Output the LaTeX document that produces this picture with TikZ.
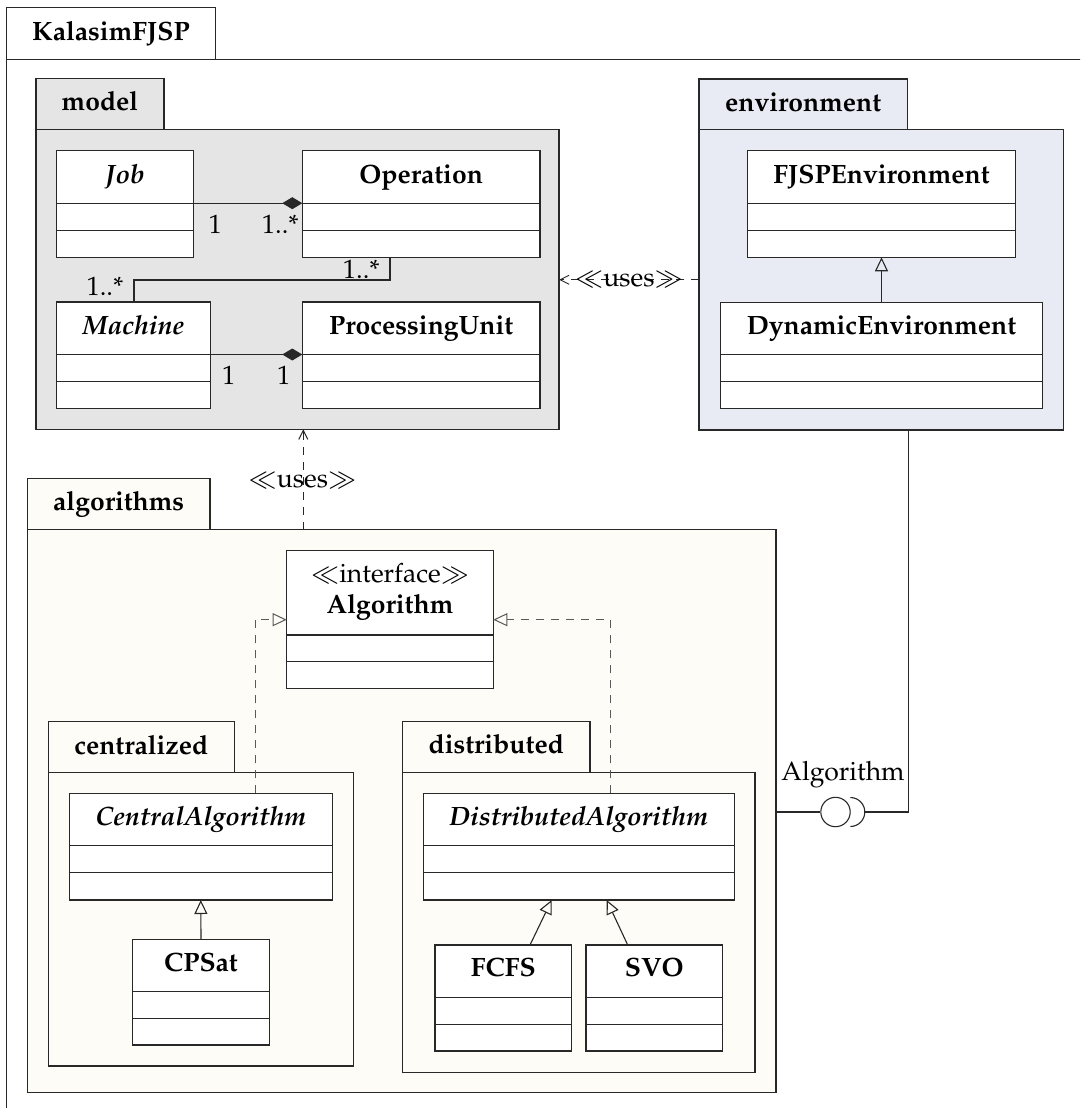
\documentclass[tikz,border=0pt]{standalone}
\usepackage[T1]{fontenc}
\usepackage{mathpazo}
\usetikzlibrary{arrows.meta,calc}
\definecolor{modelfill}{RGB}{229,229,229}
\definecolor{envfill}{RGB}{232,235,243}
\definecolor{algfill}{RGB}{254,252,246}
\definecolor{lncol}{RGB}{40,40,40}
\newcommand{\diagfs}{\fontsize{26.5}{31}\selectfont}
\tikzset{
  clsbox/.style={draw=lncol, line width=1.1pt, fill=white, inner sep=0pt, outer sep=0pt},
  clsline/.style={draw=lncol, line width=1.1pt},
  clsname/.style={font=\diagfs\bfseries, anchor=base, inner sep=0pt},
  pkgbox/.style={draw=lncol, line width=1.1pt, inner sep=0pt, outer sep=0pt},
  pkgname/.style={font=\diagfs\bfseries, anchor=base, inner sep=0pt},
  lbl/.style={font=\diagfs, anchor=base, inner sep=0pt},
  conn/.style={draw=lncol, line width=1.1pt},
  dep/.style={draw=lncol, line width=1pt, dash pattern=on 8pt off 7pt, -{Straight Barb[length=9pt,width=9pt]}},
  realz/.style={draw=black!65, line width=1pt, dash pattern=on 8pt off 7pt, -{Triangle[open,length=14pt,width=13pt]}},
  gener/.style={draw=lncol, line width=1.1pt, -{Triangle[open,length=14pt,width=13pt]}},
  compos/.style={draw=lncol, line width=1.1pt, -{Diamond[length=20pt,width=12pt]}},
}
% name, x1, y1, x2, y2, title height, baseline offset, text
\newcommand{\umlcls}[8]{%
  \node[clsbox, minimum width={(#4)-(#2)}, minimum height={(#5)-(#3)}, anchor=north west] (#1) at (#2,#3) {};
  \coordinate (#1-dw) at (#2,{#3+#6});
  \coordinate (#1-de) at (#4,{#3+#6});
  \draw[clsline] (#1-dw) -- (#1-de);
  \draw[clsline] (#2,{(#3+#6+#5)/2}) -- (#4,{(#3+#6+#5)/2});
  \node[clsname] (#1-n) at ({(#2+#4)/2},{#3+#7}) {#8};
}
% name, x1, tab top, tab right, body top, x2, y2, fill, label
\newcommand{\umlpkg}[9]{%
  \node[pkgbox, fill=#8, minimum width={(#4)-(#2)}, minimum height={(#5)-(#3)}, anchor=north west] (#1-tab) at (#2,#3) {};
  \node[pkgbox, fill=#8, minimum width={(#6)-(#2)}, minimum height={(#7)-(#5)}, anchor=north west] (#1) at (#2,#5) {};
  \node[pkgname] (#1-n) at ($(#1-tab.center)+(0,6.8)$) {#9};
}
\begin{document}
\begin{tikzpicture}[x=1pt, y=-1pt, font=\diagfs]
\path[use as bounding box] (0,0) rectangle (1080,1108);

% outer package
\begin{scope}
  \clip (0,0) rectangle (1080,1108);
  \node[pkgbox, fill=white, minimum width=209, minimum height=52, anchor=north west] (outer-tab) at (6.5,7.5) {};
  \node[pkgbox, fill=white, minimum width=1100, minimum height=1100, anchor=north west] (outer) at (6.5,59.5) {};
\end{scope}
\node[pkgname] (outer-n) at ($(outer-tab.center)+(0,7.2)$) {KalasimFJSP};

% packages
\umlpkg{model}{36}{78.5}{164}{129.5}{559}{429.3}{modelfill}{model}
\umlpkg{env}{699}{79}{907.3}{129.5}{1063.3}{430}{envfill}{environment}
\umlpkg{alg}{27.5}{478.5}{210}{529.5}{776}{1092.7}{algfill}{algorithms}
\umlpkg{cen}{48.3}{721.7}{234.2}{772.7}{353.3}{1066}{algfill}{centralized}
\umlpkg{dis}{402.5}{721.7}{590}{772.5}{755}{1072.7}{algfill}{distributed}

% model classes
\umlcls{job}{56.7}{150.7}{193.3}{257.3}{52.5}{32.6}{\itshape Job}
\umlcls{op}{302.3}{150.7}{540}{257.3}{52.5}{32.6}{Operation}
\umlcls{mach}{56.7}{302}{210.3}{408.3}{52.5}{32.6}{\itshape Machine}
\umlcls{pu}{302.3}{302}{540}{408.3}{52.5}{32.6}{ProcessingUnit}

% environment classes
\umlcls{fjsp}{747.3}{150.7}{1015.7}{257.3}{52.5}{32.6}{FJSPEnvironment}
\umlcls{dyn}{720.7}{302.3}{1042.3}{408.7}{52.5}{32.6}{DynamicEnvironment}

% algorithms classes
\umlcls{intf}{286.7}{550.7}{493.3}{688.7}{84.3}{62.6}{Algorithm}
\node[lbl] (intf-st) at (390,582.7) {$\ll$interface$\gg$};
\umlcls{ca}{69.3}{793.3}{332.3}{900}{52.5}{32}{\itshape CentralAlgorithm}
\umlcls{cps}{132.7}{939.3}{269.3}{1045}{52.5}{32.4}{CPSat}
\umlcls{da}{423.3}{793.3}{734.3}{900}{52.5}{32.4}{\itshape DistributedAlgorithm}
\umlcls{fcfs}{435}{945}{571.7}{1051}{52.5}{31.5}{FCFS}
\umlcls{svo}{586}{945}{722.7}{1051}{52.5}{31.5}{SVO}

% model relations
\draw[compos] (job-de) -- (op-dw);
\draw[compos] (mach-de) -- (pu-dw);
\draw[conn] ($(op.south west)+(87.7,0)$) -- ++(0,22.7) -| ($(mach.north west)+(77.3,0)$);
\node[lbl] (m1) at (215.3,233.3) {1};
\node[lbl] (m2) at (280.3,233.3) {1..*};
\node[lbl] (m3) at (361.3,278.3) {1..*};
\node[lbl] (m4) at (105,295.7) {1..*};
\node[lbl] (m5) at (228.7,384.3) {1};
\node[lbl] (m6) at (283.7,384.3) {1};

% environment relations
\draw[gener] (dyn.north) -- (fjsp.south);
\draw[dep] (env.west) -- (env.west -| model.east);
\node[lbl] (uses1) at (629,286.7) {$\ll$uses$\gg$};

% algorithms uses model
\coordinate (algtop) at ($(alg.north west)+(275.8,0)$);
\draw[dep] (algtop) -- (algtop |- model.south);
\node[lbl] (uses2) at (302.5,487) {$\ll$uses$\gg$};

% realizations
\draw[realz] ($(ca.north west)+(185.7,0)$) |- (intf.west);
\draw[realz] ($(da.north west)+(186.7,0)$) |- (intf.east);

% generalizations
\draw[gener] (cps.north) -- (ca.south);
\draw[gener] ($(fcfs.north west)+(95,0)$) -- ($(da.south west)+(128.4,0)$);
\draw[gener] ($(svo.north west)+(41.7,0)$) -- ($(da.south west)+(183.4,0)$);

% provided / required interface
\node[draw=lncol, line width=1.1pt, circle, minimum size=29.4pt, inner sep=0pt] (ball) at (835.5,812) {};
\coordinate (sock) at (850.3,812);
\draw[conn] ($(sock)+(0,-14.5)$) arc[start angle=-90, end angle=90, radius=14.5];
\draw[conn] (alg.east |- ball.west) -- (ball.west);
\draw[conn] ($(env.south west)+(209.5,0)$) |- ($(sock)+(14.5,0)$);
\node[lbl] (balllbl) at (843,780) {Algorithm};
\end{tikzpicture}
\end{document}
